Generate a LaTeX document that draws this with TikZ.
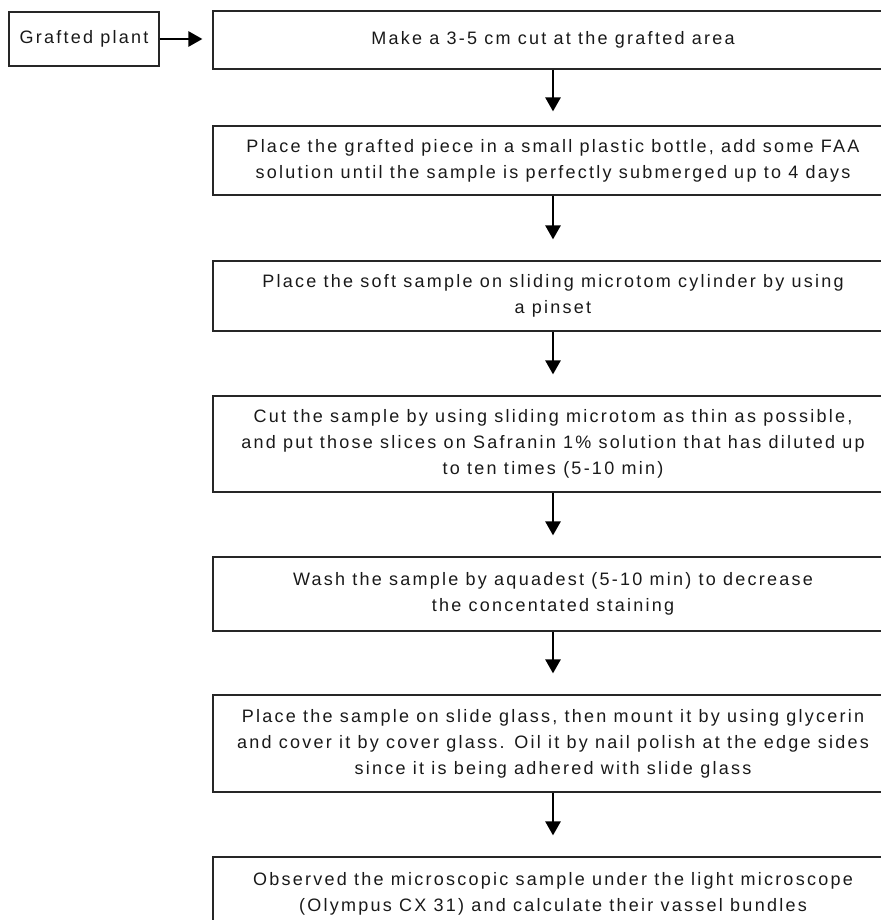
\documentclass[tikz,border=0pt]{standalone}
\usepackage{fontspec}
\setmainfont{Liberation Sans}
\newfontfamily\widefont[LetterSpace=12.5]{Liberation Sans}
\usetikzlibrary{arrows.meta}
\begin{document}
\begin{tikzpicture}[x=1pt,y=-1pt,
  stepbox/.style={draw=black!85,line width=1.2pt,minimum width=680pt,inner sep=0pt,
    align=center,text=black!90,font=\widefont\fontsize{18}{26}\selectfont},
  flow/.style={-{Triangle[length=14pt,width=15pt]},line width=2.6pt,shorten >=21pt}]
  \useasboundingbox (0,0) rectangle (880,920);
  \node[stepbox,minimum width=150pt,minimum height=54pt] (plant) at (84,39) {Grafted plant};
  \node[stepbox,minimum height=58pt] (s1) at (553,40) {Make a 3-5 cm cut at the grafted area};
  \node[stepbox,minimum height=69pt] (s2) at (553,160.5) {Place the grafted piece in a small plastic bottle, add some FAA\\
    solution until the sample is perfectly submerged up to 4 days};
  \node[stepbox,minimum height=70pt] (s3) at (553,296) {Place the soft sample on sliding microtom cylinder by using\\
    a pinset};
  \node[stepbox,minimum height=96pt] (s4) at (553,444) {Cut the sample by using sliding microtom as thin as possible,\\
    and put those slices on Safranin 1\% solution that has diluted up\\ to ten times (5-10 min)};
  \node[stepbox,minimum height=74pt] (s5) at (553,594) {Wash the sample by aquadest (5-10 min) to decrease\\
    the concentated staining};
  \node[stepbox,minimum height=97pt] (s6) at (553,743.5) {Place the sample on slide glass, then mount it by using glycerin\\
    and cover it by cover glass. Oil it by nail polish at the edge sides\\ since it is being adhered with slide glass};
  \node[stepbox,minimum height=74pt] (s7) at (553,894) {Observed the microscopic sample under the light microscope\\
    (Olympus CX 31) and calculate their vassel bundles};
  \draw[flow,shorten >=10pt] (plant.east) -- (plant.east -| s1.west);
  \draw[flow,shorten >=14pt] (s1.south) -- (s2.north);
  \foreach \a/\b in {s2/s3,s3/s4,s4/s5,s5/s6,s6/s7}
    \draw[flow] (\a.south) -- (\b.north);
\end{tikzpicture}
\end{document}
